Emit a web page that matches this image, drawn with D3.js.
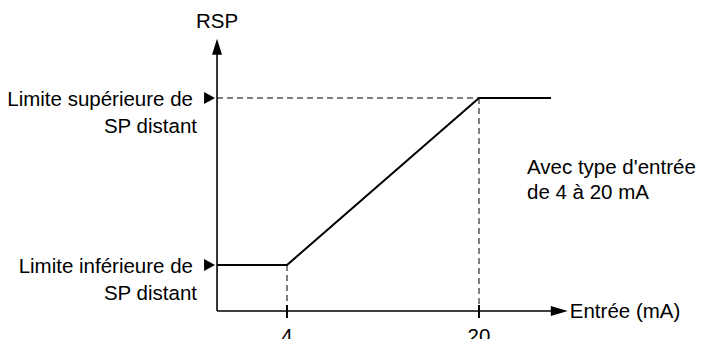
<!DOCTYPE html>
<html><head><meta charset="utf-8">
<script src="https://cdn.jsdelivr.net/npm/d3@7"></script>
<style>
html,body{margin:0;padding:0;background:#fff;}
svg{display:block;font-family:"Liberation Sans",Arial,Helvetica,sans-serif;}
</style></head>
<body>
<svg id="c" width="702" height="339"></svg>
<script>
// Data (input in mA, RSP in % of remote SP range)
const inputBreaks = [4, 20];            // tick values on x axis
const tickLabels = ["4", "20"];
const curveX = [-1.83, 4, 20, 26];       // mA
const curveY = [0, 0, 100, 100];         // % (0 = lower limit, 100 = upper limit)
const limitValues = [100, 0];
const limitLabels = [["Limite supérieure de", "SP distant"], ["Limite inférieure de", "SP distant"]];
const noteLines = ["Avec type d'entrée", "de 4 à 20 mA"];
const xAxisTitle = "Entrée (mA)";
const yAxisTitle = "RSP";

const svg = d3.select("#c");
const x = d3.scaleLinear().domain([4, 20]).range([287, 479]);
const y = d3.scaleLinear().domain([0, 100]).range([265, 98]);
const xMin = -1.83, xMax = 27.4;  // axis extent (mA)
const yMin = -27.5, yMax = 135.5;   // axis extent (%)
const fs = 20.5;

const g = svg.append("g");
// Dashed guides
g.append("line").attr("x1", x(xMin)).attr("x2", x(20)).attr("y1", y(100)).attr("y2", y(100))
  .attr("stroke", "#000").attr("stroke-width", 1).attr("stroke-dasharray", "6,4");
inputBreaks.forEach((v, i) => {
  g.append("line").attr("x1", x(v)).attr("x2", x(v)).attr("y1", y(curveY[i + 1])).attr("y2", y(yMin))
    .attr("stroke", "#000").attr("stroke-width", 1).attr("stroke-dasharray", "6,4");
});

// Axes
g.append("line").attr("x1", x(xMin)).attr("x2", x(xMin)).attr("y1", y(yMin)).attr("y2", y(yMax) + 14)
  .attr("stroke", "#000").attr("stroke-width", 1.6);
g.append("path").attr("d", `M${x(xMin)},${y(yMax)} l-5,16 l10,0 z`).attr("fill", "#000");
g.append("line").attr("x1", x(xMin)).attr("x2", x(xMax) - 14).attr("y1", y(yMin)).attr("y2", y(yMin))
  .attr("stroke", "#000").attr("stroke-width", 1.6);
g.append("path").attr("d", `M${x(xMax)},${y(yMin)} l-17,-5 l0,10 z`).attr("fill", "#000");

// Ticks
inputBreaks.forEach((v, i) => {
  g.append("line").attr("x1", x(v)).attr("x2", x(v)).attr("y1", y(yMin) - 6).attr("y2", y(yMin) + 7)
    .attr("stroke", "#000").attr("stroke-width", 2);
  g.append("text").attr("x", x(v)).attr("y", y(yMin) + 32).attr("text-anchor", "middle")
    .attr("font-size", fs).text(tickLabels[i]);
});

// Curve
const line = d3.line().x((d, i) => x(curveX[i])).y((d, i) => y(curveY[i]));
g.append("path").attr("d", line(curveX)).attr("fill", "none").attr("stroke", "#000").attr("stroke-width", 2);

// Limit labels + markers
limitValues.forEach((v, i) => {
  const yy = y(v);
  g.append("path").attr("d", `M${x(xMin) - 2},${yy} l-11,-6 l0,12 z`).attr("fill", "#000");
  g.append("text").attr("x", 193).attr("y", yy + 7.5).attr("text-anchor", "end").attr("font-size", fs).text(limitLabels[i][0]);
  g.append("text").attr("x", 197).attr("y", yy + 34.5).attr("text-anchor", "end").attr("font-size", fs).text(limitLabels[i][1]);
});

// Titles
g.append("text").attr("x", x(xMin)).attr("y", 28).attr("text-anchor", "middle").attr("font-size", fs).text(yAxisTitle);
g.append("text").attr("x", x(xMax) + 2).attr("y", y(yMin) + 7.5).attr("font-size", fs).text(xAxisTitle);
noteLines.forEach((t, i) => {
  g.append("text").attr("x", 527).attr("y", 174 + i * 25).attr("font-size", fs).text(t);
});
</script>
</body></html>
